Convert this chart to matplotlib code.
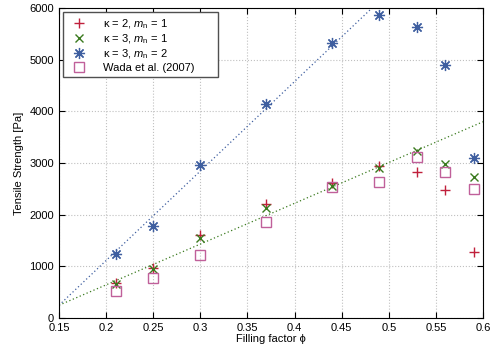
import matplotlib
matplotlib.use('Agg')
import matplotlib.pyplot as plt
import numpy as np

phi = [0.21, 0.25, 0.30, 0.37, 0.44, 0.49, 0.53, 0.56, 0.59]
k2_m1 = [680, 980, 1600, 2200, 2620, 2940, 2820, 2480, 1280]
k3_m1 = [660, 960, 1560, 2130, 2550, 2900, 3230, 2990, 2730]
k3_m2 = [1250, 1780, 2960, 4150, 5330, 5870, 5630, 4900, 3090]
wada = [520, 780, 1230, 1870, 2540, 2630, 3110, 2830, 2490]

# fitted lines (end points)
fit_x = [0.15, 0.6]
fit_blue = [250, 8040]
fit_green = [250, 3800]

plt.rcParams['font.family'] = ['Liberation Sans', 'DejaVu Sans']
plt.rcParams['font.size'] = 8
plt.rcParams['mathtext.fontset'] = 'custom'
plt.rcParams['mathtext.it'] = 'Liberation Sans:italic'
plt.rcParams['mathtext.rm'] = 'Liberation Sans'

fig = plt.figure(figsize=(5, 3.5), dpi=100)
ax = fig.add_axes([0.118, 0.091, 0.848, 0.886])

red = '#c0203c'
green = '#3a7a1e'
blue = '#3f5fa0'
pink = '#c0609a'

ax.plot(fit_x, fit_blue, color=blue, lw=0.9, ls=(0, (1, 2)))
ax.plot(fit_x, fit_green, color=green, lw=0.9, ls=(0, (1, 2)))

ax.plot(phi, k2_m1, '+', color=red, ms=7, mew=1.0, ls='none',
        label=r'κ = 2, $m_\mathrm{n}$ = 1')
ax.plot(phi, k3_m1, 'x', color=green, ms=6, mew=1.0, ls='none',
        label=r'κ = 3, $m_\mathrm{n}$ = 1')
ax.plot(phi, k3_m2, color=blue, ms=8, mew=0.9, ls='none', marker=(8, 2, 0),
        label=r'κ = 3, $m_\mathrm{n}$ = 2')
ax.plot(phi, wada, 's', color=pink, ms=7, mfc='none', mew=1.0, ls='none',
        label='Wada et al. (2007)      ')

ax.set_xlim(0.15, 0.6)
ax.set_ylim(0, 6000)
ax.set_xticks(np.arange(0.15, 0.601, 0.05))
ax.set_xticklabels(['0.15', '0.2', '0.25', '0.3', '0.35', '0.4', '0.45', '0.5', '0.55', '0.6'])
ax.set_yticks(range(0, 6001, 1000))
ax.tick_params(direction='in', top=True, right=True, length=4, width=0.8)
ax.grid(True, color='#c0c0c0', ls=':', lw=0.8)

ax.set_xlabel('Filling factor ϕ', labelpad=1)
ax.set_ylabel('Tensile Strength [Pa]')

ax.legend(loc='upper left', fancybox=False, edgecolor='#505050', framealpha=1,
          borderaxespad=0.4, handletextpad=1.2, labelspacing=0.15)

fig.savefig('out.png', dpi=100)
